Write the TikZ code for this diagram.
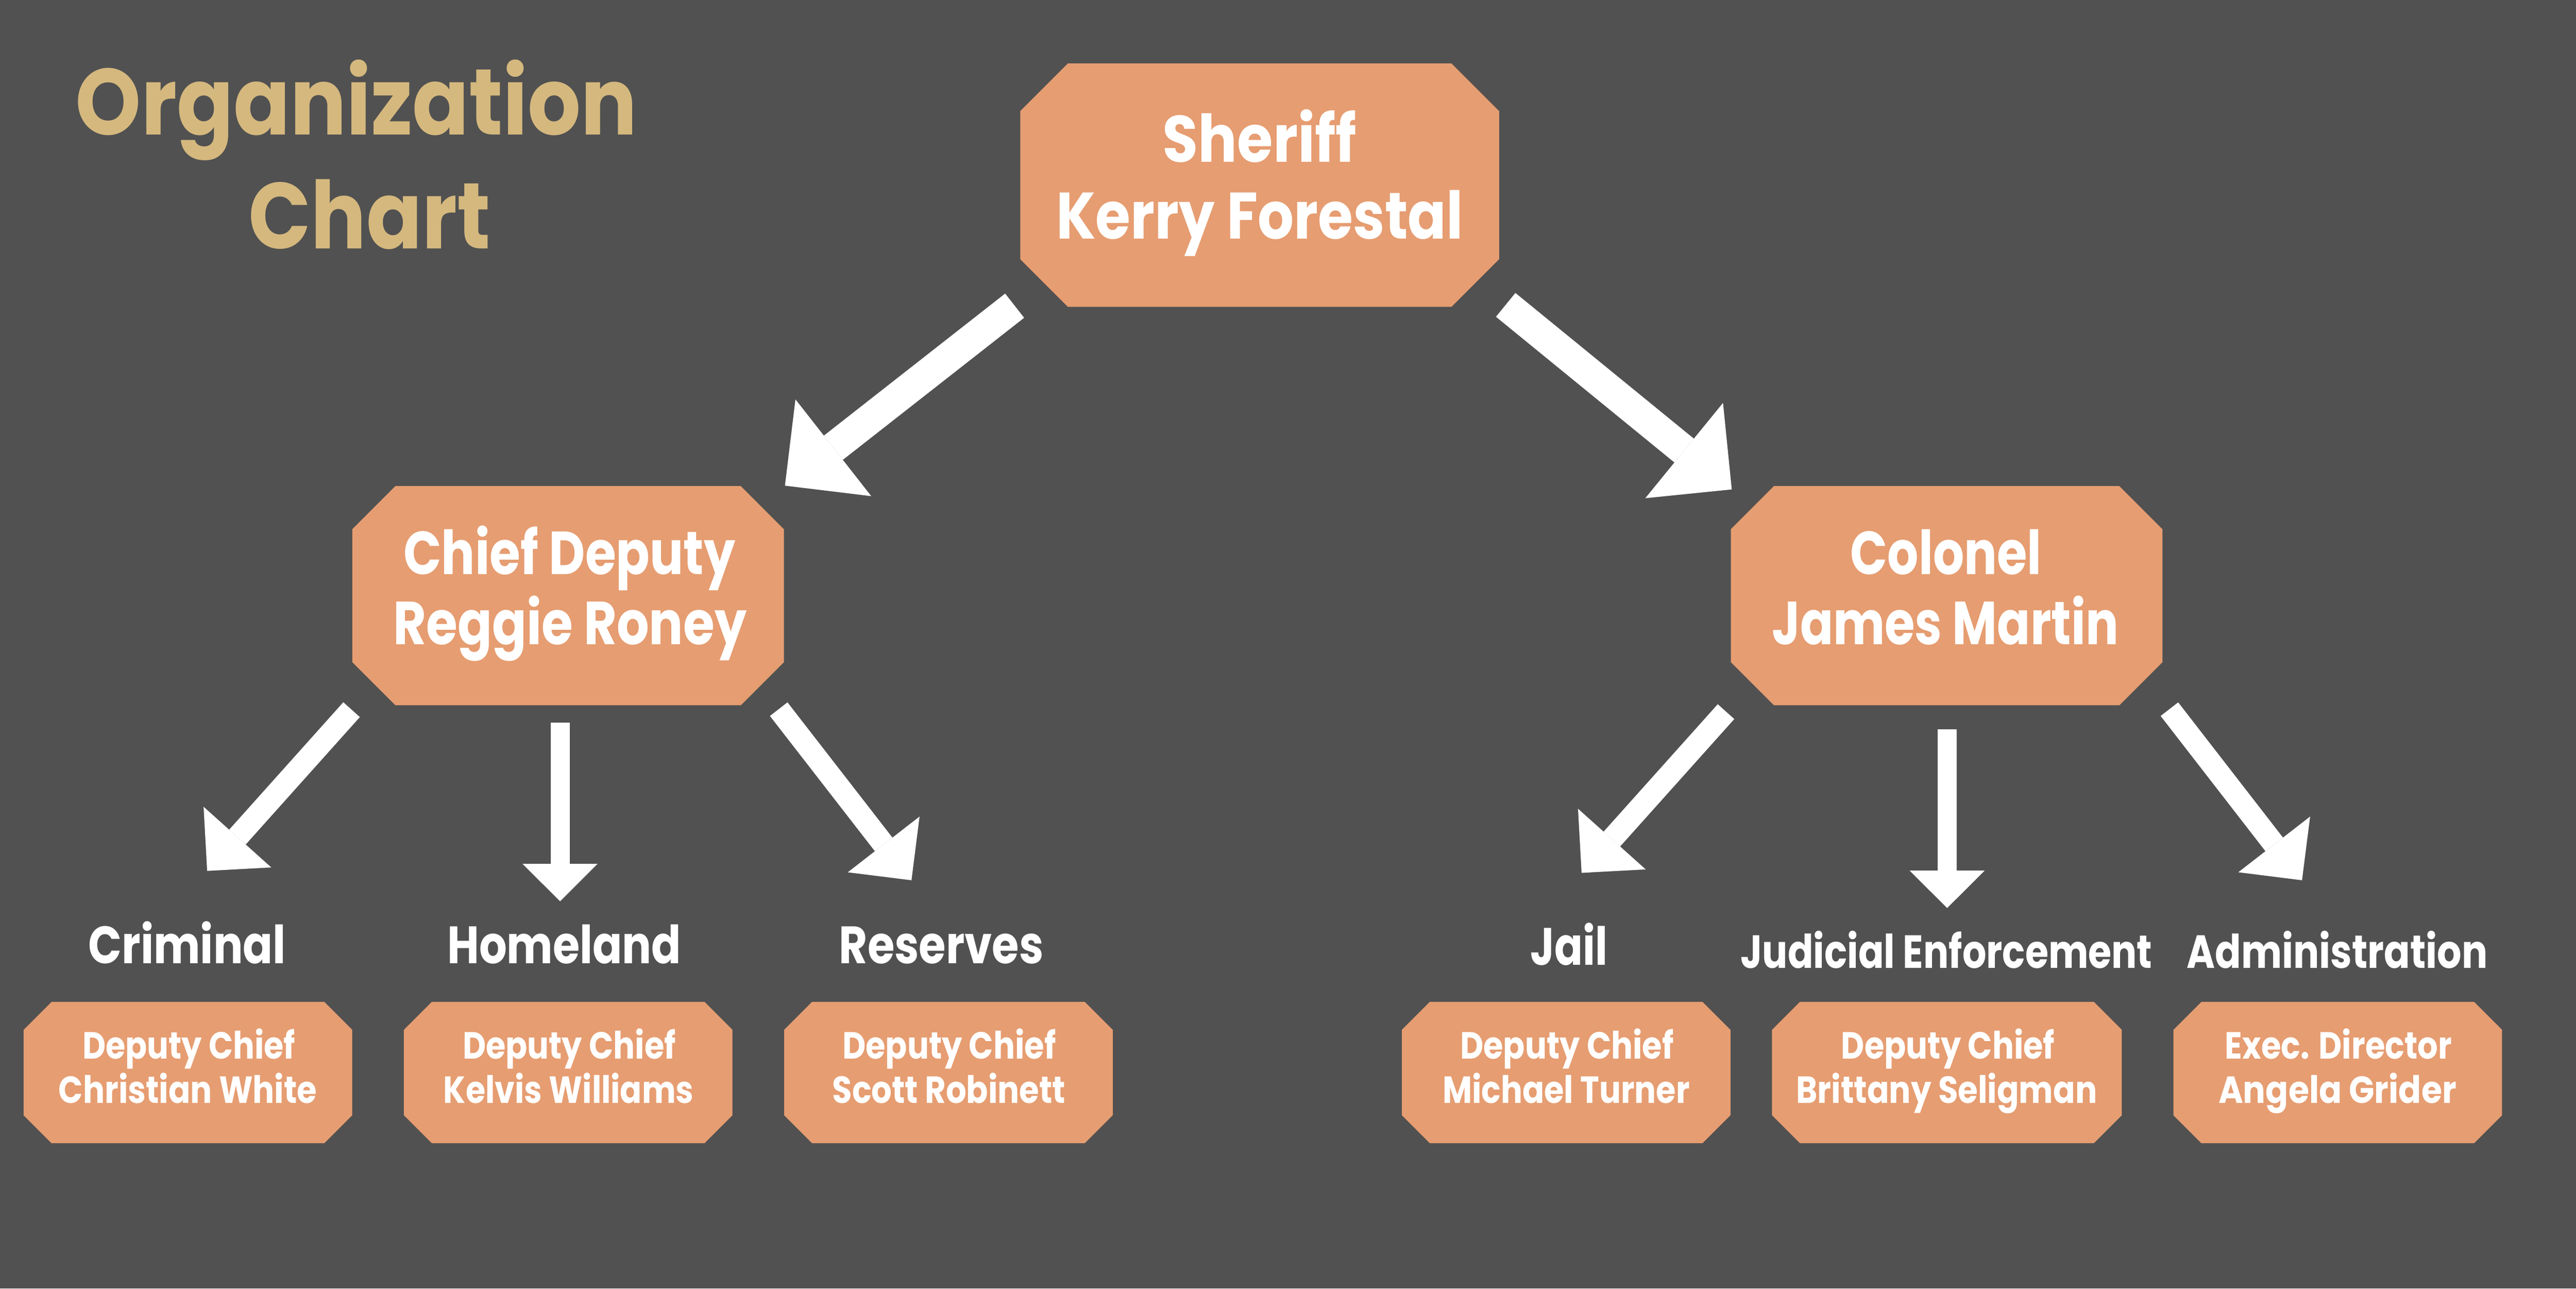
\documentclass[tikz,border=0pt]{standalone}
\usepackage{fontspec}
\setmainfont{Poppins}
\usepackage{graphicx}
\usetikzlibrary{arrows.meta,calc}
\definecolor{bgcol}{HTML}{515151}
\definecolor{boxcol}{HTML}{E69D71}
\definecolor{titlecol}{HTML}{D5B87E}
\newcommand\fw[2]{\resizebox{#1pt}{\height}{#2}}
\newcommand\octo[2]{%
  \fill[boxcol] ([xshift=#2pt]#1.north west) -- ([xshift=-#2pt]#1.north east)
    -- ([yshift=-#2pt]#1.north east) -- ([yshift=#2pt]#1.south east)
    -- ([xshift=-#2pt]#1.south east) -- ([xshift=#2pt]#1.south west)
    -- ([yshift=#2pt]#1.south west) -- ([yshift=-#2pt]#1.north west) -- cycle;}
\tikzset{
  boxarea/.style={rectangle, inner sep=0pt, outer sep=0pt},
  bigbox/.style={boxarea, minimum width=262.7pt, minimum height=133.3pt},
  smallbox/.style={boxarea, minimum width=200pt, minimum height=86pt},
  txt/.style={inner sep=0pt, outer sep=0pt, anchor=base, text=white},
  ftitle/.style={txt, text=titlecol, font=\fontsize{57}{60}\selectfont\bfseries},
  ftop/.style={txt, font=\fontsize{40}{44}\selectfont\bfseries},
  fmid/.style={txt, font=\fontsize{37}{40}\selectfont\bfseries},
  flab/.style={txt, font=\fontsize{32}{34}\selectfont\bfseries},
  flabs/.style={txt, font=\fontsize{28.3}{30}\selectfont\bfseries},
  fsmall/.style={txt, font=\fontsize{23}{25}\selectfont\bfseries},
  arr/.style={draw=white, line cap=butt},
  arrbig/.style={arr, line width=18.7pt, -{Triangle[length=37.4pt,width=74.8pt,line width=0pt]}},
  arrdiag/.style={arr, line width=13.5pt, -{Triangle[length=27.6pt,width=55.3pt,line width=0pt]}},
  arrvert/.style={arr, line width=11.6pt, -{Triangle[length=22.8pt,width=45.7pt,line width=0pt]}},
}
\begin{document}
\begin{tikzpicture}[x=1pt,y=-1pt]
\useasboundingbox (0,0) rectangle (1568,784);
\fill[bgcol] (0,0) rectangle (1568,784);

% title
\node[ftitle] (titleA) at (216.95,81.9) {\fw{341.7}{Organization}};
\node[ftitle] (titleB) at (224.9,151.2) {\fw{147.2}{Chart}};

% box areas
\node[boxarea, minimum width=291.5pt, minimum height=148.1pt] (sheriff) at (766.75,112.65) {};
\node[bigbox] (chief) at (345.8,362.45) {};
\node[bigbox] (colonel) at (1184.9,362.45) {};
\node[smallbox] (criminal) at (114.4,652.6) {};
\node[smallbox] (homeland) at (345.85,652.6) {};
\node[smallbox] (reserves) at (577.3,652.6) {};
\node[smallbox] (jail) at (953.3,652.6) {};
\node[smallbox, minimum width=212.9pt] (judicial) at (1185.05,652.6) {};
\node[smallbox] (admin) at (1422.95,652.6) {};

\octo{sheriff}{29}
\octo{chief}{26.2}
\octo{colonel}{26.2}
\octo{criminal}{17}
\octo{homeland}{17}
\octo{reserves}{17}
\octo{jail}{17}
\octo{judicial}{17}
\octo{admin}{17}

% texts in big boxes
\node[ftop] (sheriffA) at (766.75,98.5) {\fw{118.2}{Sheriff}};
\node[ftop] (sheriffB) at (766.75,145.2) {\fw{247.7}{Kerry Forestal}};
\node[fmid] (chiefA) at (346.6,349.5) {\fw{202}{Chief Deputy}};
\node[fmid] (chiefB) at (347,392) {\fw{215}{Reggie Roney}};
\node[fmid] (colonelA) at (1184.5,349.5) {\fw{116.4}{Colonel}};
\node[fmid] (colonelB) at (1184,392) {\fw{210.9}{James Martin}};

% unit labels
\node[flab] (labCriminal) at (113.9,586.4) {\fw{120.2}{Criminal}};
\node[flab] (labHomeland) at (343.5,586.4) {\fw{142.4}{Homeland}};
\node[flab] (labReserves) at (573,586.4) {\fw{124.4}{Reserves}};
\node[flab] (labJail) at (955,587.1) {\fw{46.9}{Jail}};
\node[flabs] (labJudicial) at (1184.8,589.2) {\fw{250.6}{Judicial Enforcement}};
\node[flabs] (labAdmin) at (1422.7,589.2) {\fw{183.2}{Administration}};

% small box texts
\node[fsmall] (criminalA) at (115,644.2) {\fw{129.5}{Deputy Chief}};
\node[fsmall] (criminalB) at (114.3,671.4) {\fw{157.2}{Christian White}};
\node[fsmall] (homelandA) at (346.5,644.2) {\fw{129.7}{Deputy Chief}};
\node[fsmall] (homelandB) at (346.1,671.4) {\fw{152.2}{Kelvis Williams}};
\node[fsmall] (reservesA) at (577.75,644.2) {\fw{130}{Deputy Chief}};
\node[fsmall] (reservesB) at (577.6,671.4) {\fw{141.8}{Scott Robinett}};
\node[fsmall] (jailA) at (953.8,644.2) {\fw{130}{Deputy Chief}};
\node[fsmall] (jailB) at (953.3,671.4) {\fw{150.4}{Michael Turner}};
\node[fsmall] (judicialA) at (1185.75,644.2) {\fw{130}{Deputy Chief}};
\node[fsmall] (judicialB) at (1184.9,671.4) {\fw{183.1}{Brittany Seligman}};
\node[fsmall] (adminA) at (1423.4,644.2) {\fw{138}{Exec. Director}};
\node[fsmall] (adminB) at (1422.8,671.4) {\fw{144.9}{Angela Grider}};

% arrow end points
\coordinate (a1t) at (617.6,186);    \coordinate (a1h) at (477.8,295.5);
\coordinate (a2t) at (916.5,185.5);  \coordinate (a2h) at (1054.1,297.8);
\coordinate (a3t) at (214,431.8);    \coordinate (a3h) at (126.1,529.9);
\coordinate (a4t) at (340.9,439.7);  \coordinate (a4h) at (340.9,548.4);
\coordinate (a5t) at (474,431.5);    \coordinate (a5h) at (554.8,535.6);
\coordinate (a6t) at (1050.6,433);   \coordinate (a6h) at (962.7,531.1);
\coordinate (a7t) at (1185.2,443.8); \coordinate (a7h) at (1185.2,552.5);
\coordinate (a8t) at (1320.5,431.5); \coordinate (a8h) at (1401.2,535.6);

\draw[arrbig] (a1t) -- (a1h);
\draw[arrbig] (a2t) -- (a2h);
\draw[arrdiag] (a3t) -- (a3h);
\draw[arrvert] (a4t) -- (a4h);
\draw[arrdiag] (a5t) -- (a5h);
\draw[arrdiag] (a6t) -- (a6h);
\draw[arrvert] (a7t) -- (a7h);
\draw[arrdiag] (a8t) -- (a8h);
\end{tikzpicture}
\end{document}
